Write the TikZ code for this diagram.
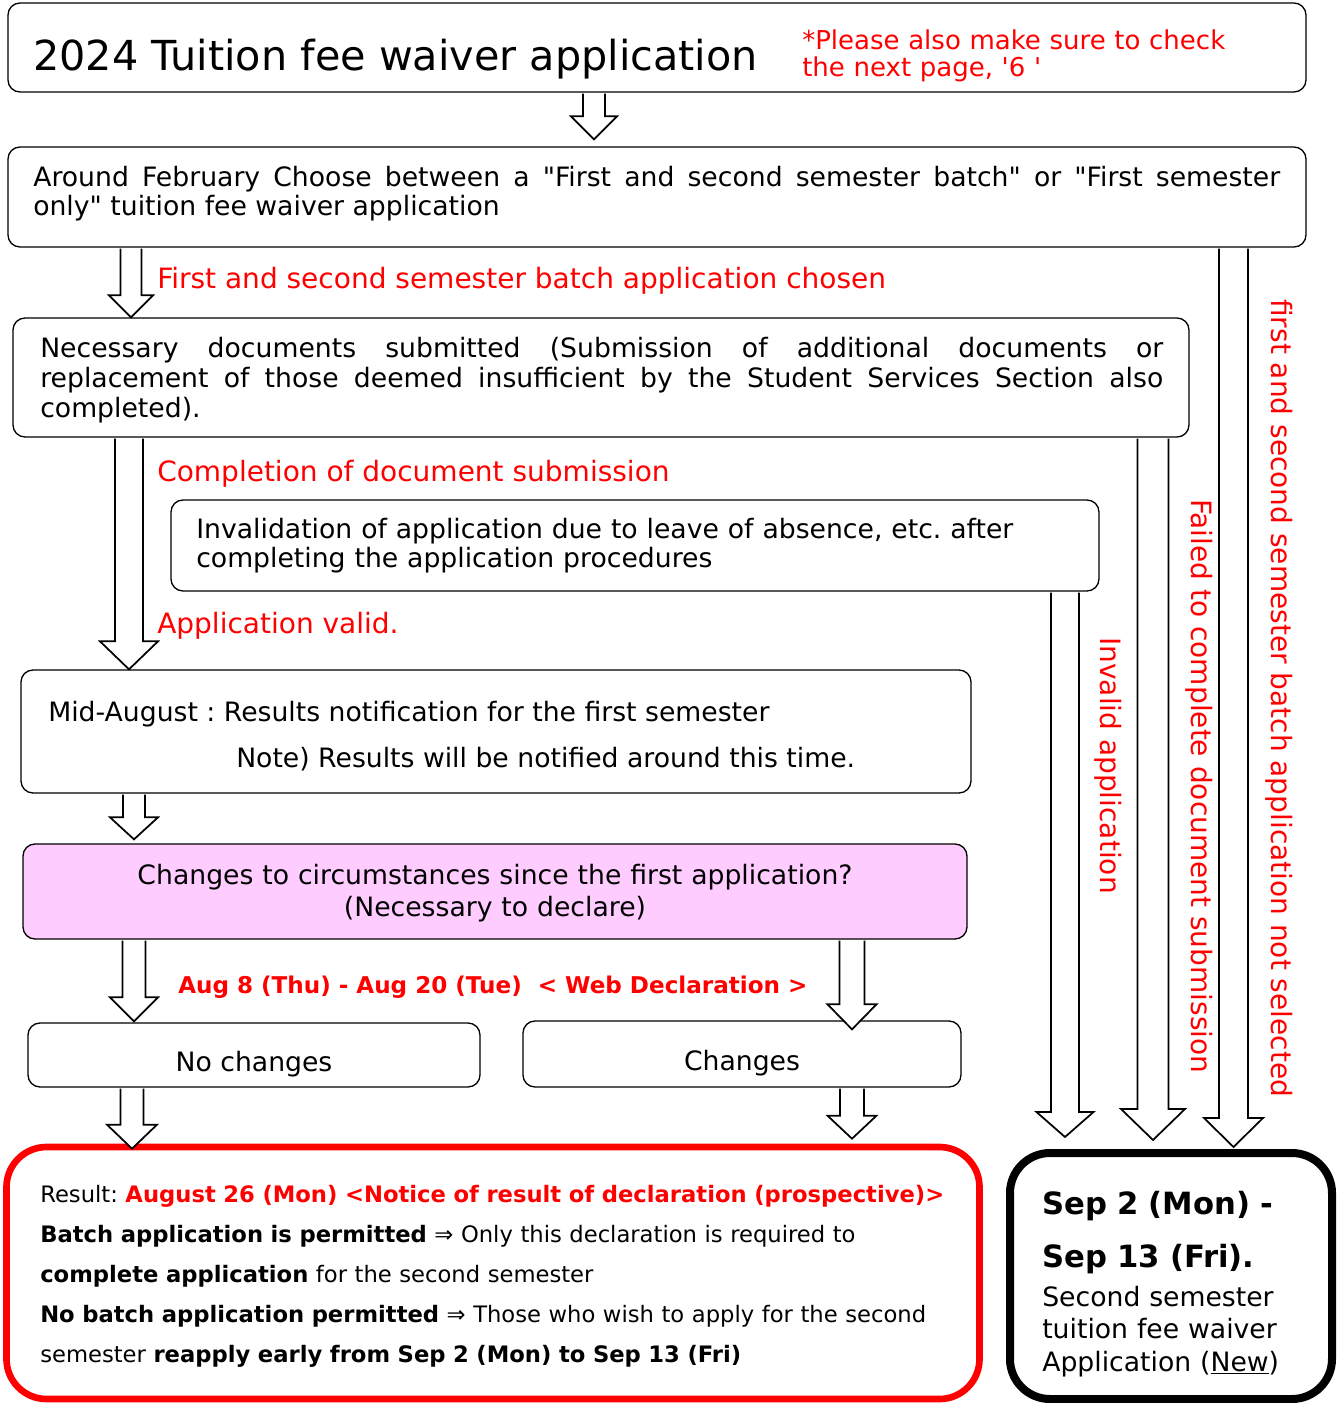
\documentclass[tikz,border=0pt]{standalone}
\usepackage{fontspec}
\setmainfont{DejaVu Sans}[Ligatures=TeXOff]
\usetikzlibrary{calc,fit}
\definecolor{declpink}{HTML}{FFCCFF}
\definecolor{notered}{HTML}{FF0000}
\newcommand\fsz[2]{\fontsize{#1}{#2}\selectfont}
\frenchspacing
\tikzset{
  box/.style     = {draw=black, line width=1pt, rounded corners=9pt, inner sep=0pt},
  bigbox/.style  = {draw=black, line width=6pt, rounded corners=30pt, inner sep=0pt},
  blockar/.style = {draw=black, line width=1.3pt, fill=white, line join=miter},
  txt/.style     = {inner sep=0pt, anchor=base west, font=\fsz{20pt}{22pt}},
  redlbl/.style  = {inner sep=0pt, anchor=base west, text=notered, font=\fsz{21pt}{24pt}},
  sidelbl/.style = {redlbl, anchor=west, rotate=-90},
  smalltxt/.style= {inner sep=0pt, anchor=base west, font=\fsz{17pt}{30pt}},
}
% hollow block arrow: start, tip, tip shift, half shaft, half head, head length
\newcommand\hollowarrow[6]{%
  \coordinate (ha-tip) at ($(#2)+(0,#3)$);
  \draw[blockar] ($(#1)+(-#4,1)$) -- ($(ha-tip)+(-#4,-#6)$) -- ($(ha-tip)+(-#5,-#6)$)
    -- (ha-tip) -- ($(ha-tip)+(#5,-#6)$) -- ($(ha-tip)+(#4,-#6)$) -- ($(#1)+(#4,1)$);
}
\begin{document}
\begin{tikzpicture}[x=0.75pt, y=-0.75pt]
  \useasboundingbox[fill=white] (0,0) rectangle (1338,1403);

  % columns of the arrows
  \coordinate (colA) at (594,0);
  \coordinate (colL) at (131,0);
  \coordinate (colV) at (129,0);
  \coordinate (colM) at (134,0);
  \coordinate (colN) at (132,0);
  \coordinate (colR) at (852,0);
  \coordinate (colI) at (1065,0);
  \coordinate (colF) at (1153,0);
  \coordinate (colS) at (1233.5,0);

  % boxes
  \node[box, fit={(8,3) (1306,92)}] (titlebox) {};
  \node[box, fit={(8,147) (1306,247)}] (choosebox) {};
  \node[box, fit={(13,318) (1189,437)}] (docsbox) {};
  \node[box, fit={(171,500) (1099,591)}] (invalidbox) {};
  \node[box, fit={(21,670) (971,793)}] (firstres) {};
  \node[box, fill=declpink, fit={(23,844) (967,939)}] (declbox) {};
  \node[box, fit={(28,1023) (480,1087)}] (nochgbox) {};
  \node[box, fit={(523,1021) (961,1087)}] (chgbox) {};
  \node[bigbox, draw=notered, line width=5pt, fit={(6.5,1147) (979.5,1399)}] (resultbox) {};
  \node[bigbox, fit={(1010,1153) (1332,1399)}] (secondbox) {};

  % texts
  \node[txt, font=\fsz{31pt}{34pt}] (titletxt) at (33,70) {2024 Tuition fee waiver application};
  \node[redlbl, text width=380pt, align=left, font=\fsz{19.5pt}{20.25pt}] (checknote) at (802,49)
    {*Please also make sure to check\\the next page, '6 '};
  \node[txt, text width=935.25pt, align=justify, font=\fsz{20pt}{21.75pt}] (choosetxt) at (33,186)
    {Around February Choose between a "First and second semester batch" or "First semester\linebreak only" tuition fee waiver application};
  \node[txt, text width=842.25pt, align=justify, font=\fsz{20pt}{22.5pt}] (docstxt) at (40,357)
    {Necessary documents submitted (Submission of additional documents or\linebreak replacement of those deemed insufficient by the Student Services Section also\linebreak completed).};
  \node[txt, text width=680pt, align=left, font=\fsz{20pt}{21.75pt}] (invalidtxt) at (196,538)
    {Invalidation of application due to leave of absence, etc. after\\completing the application procedures};
  \node[txt] (midtxt) at (48,721) {Mid-August : Results notification for the first semester};
  \node[txt] (notetxt) at (236,767) {Note) Results will be notified around this time.};
  \node[txt, anchor=base, text width=690pt, align=center, font=\fsz{20pt}{24pt}] (decltxt) at (495,884)
    {Changes to circumstances since the first application?\\(Necessary to declare)};
  \node[txt, anchor=base] (nochgtxt) at (254,1071) {No changes};
  \node[txt, anchor=base] (chgtxt) at (742,1070) {Changes};

  \node[redlbl] (chosenlbl) at (157,288) {First and second semester batch application chosen};
  \node[redlbl] (completelbl) at (157,481) {Completion of document submission};
  \node[redlbl] (validlbl) at (157,633) {Application valid.};
  \node[redlbl, font=\bfseries\fsz{17.3pt}{20pt}] (weblbl) at (178,993)
    {Aug 8 (Thu) - Aug 20 (Tue)\ \ < Web Declaration >};

  \node[sidelbl] (invalidlbl) at (1108,637) {Invalid application};
  \node[sidelbl] (failedlbl) at (1199,499) {Failed to complete document submission};
  \node[sidelbl] (notsellbl) at (1279,299) {first and second semester batch application not selected};

  \node[smalltxt, text width=700pt, align=left] (resulttxt) at (40,1202)
    {Result: \textcolor{notered}{\bfseries August 26 (Mon) <Notice of result of declaration (prospective)>}\\
     \textbf{Batch application is permitted} ⇒ Only this declaration is required to\\
     \textbf{complete application} for the second semester\\
     \textbf{No batch application permitted} ⇒ Those who wish to apply for the second\\
     semester \textbf{reapply early from Sep 2 (Mon) to Sep 13 (Fri)}};
  \node[txt, text width=220pt, align=left, font=\bfseries\fsz{23pt}{40pt}] (datestxt) at (1042,1214)
    {Sep 2 (Mon) -\\Sep 13 (Fri).};
  \node[txt, text width=220pt, align=left, font=\fsz{20pt}{24.5pt}] (secondtxt) at (1042,1306)
    {Second semester\\tuition fee waiver\\Application (\underline{New})};

  % arrows
  \hollowarrow{titlebox.south -| colA}{choosebox.north -| colA}{-7}{11}{23}{23}
  \hollowarrow{choosebox.south -| colL}{docsbox.north -| colL}{0}{10.5}{22}{22}
  \hollowarrow{docsbox.south -| colV}{firstres.north -| colV}{0}{14}{29}{28}
  \hollowarrow{firstres.south -| colM}{declbox.north -| colM}{-4}{11}{24}{22}
  \hollowarrow{declbox.south -| colM}{nochgbox.north -| colM}{-1}{11.5}{24}{24}
  \hollowarrow{declbox.south -| colR}{chgbox.north -| colR}{9}{12.5}{24.5}{25}
  \hollowarrow{nochgbox.south -| colN}{resultbox.north -| colN}{5}{11.5}{25}{24}
  \hollowarrow{chgbox.south -| colR}{resultbox.north -| colR}{-5}{12}{24.5}{23}
  \hollowarrow{invalidbox.south -| colI}{secondbox.north -| colI}{-12}{14}{28.5}{25}
  \hollowarrow{docsbox.south -| colF}{secondbox.north -| colF}{-9}{15.5}{32}{31}
  \hollowarrow{choosebox.south -| colS}{secondbox.north -| colS}{-2}{14.5}{29.5}{29}
\end{tikzpicture}
\end{document}
